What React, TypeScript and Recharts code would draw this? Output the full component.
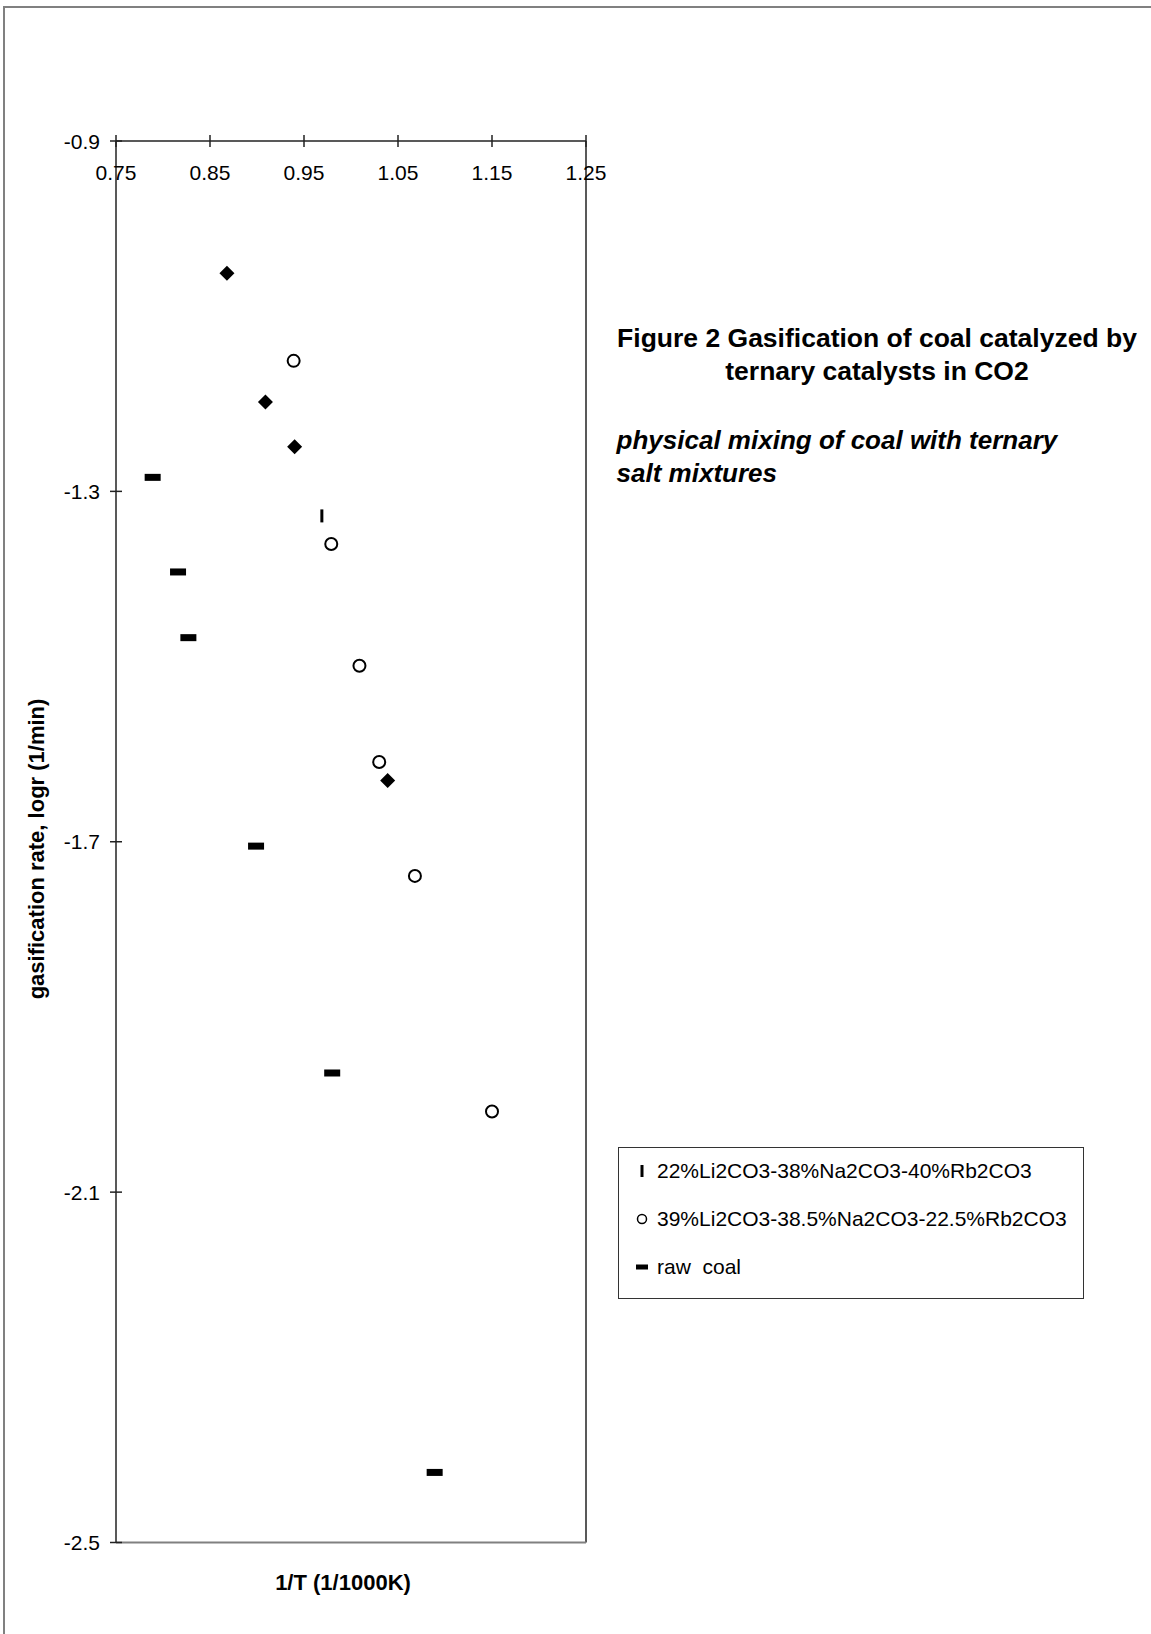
import React from 'react';
import { ScatterChart, Scatter, XAxis, YAxis, ReferenceLine, Legend } from 'recharts';

// ---- data ----
const xTicks = [0.75, 0.85, 0.95, 1.05, 1.15, 1.25];
const yTicks = [-0.9, -1.3, -1.7, -2.1, -2.5];

const diamondX = [0.868, 0.909, 0.94, 1.039];
const diamondY = [-1.051, -1.198, -1.249, -1.63];

const li22X = [0.969];
const li22Y = [-1.328];

const li39X = [0.939, 0.979, 1.009, 1.03, 1.068, 1.15];
const li39Y = [-1.151, -1.36, -1.499, -1.609, -1.739, -2.008];

const rawX = [0.789, 0.816, 0.827, 0.899, 0.98, 1.089];
const rawY = [-1.284, -1.392, -1.467, -1.705, -1.964, -2.42];

const seriesNames = [
  '22%Li2CO3-38%Na2CO3-40%Rb2CO3',
  '39%Li2CO3-38.5%Na2CO3-22.5%Rb2CO3',
  'raw  coal',
];

const toPoints = (xs: number[], ys: number[]) => xs.map((x, i) => ({ x, y: ys[i] }));

const FONT = "'Liberation Sans', Arial, Helvetica, sans-serif";
const AXIS = '#222';

// ---- marker shapes ----
const DiamondShape = (p: any) => {
  const { cx, cy } = p;
  const h = 7.5;
  return <polygon points={`${cx},${cy - h} ${cx + h},${cy} ${cx},${cy + h} ${cx - h},${cy}`} fill="#000" />;
};
const CircleShape = (p: any) => <circle cx={p.cx} cy={p.cy} r={6} fill="#fff" stroke="#000" strokeWidth={2} />;
const BarShape = (p: any) => <rect x={p.cx - 1.5} y={p.cy - 6.5} width={3} height={13} fill="#000" />;
const DashShape = (p: any) => <rect x={p.cx - 8} y={p.cy - 3.5} width={16} height={7} fill="#000" />;

// ---- ticks ----
const XTick = (p: any) => {
  const { x, y, payload } = p;
  return (
    <g>
      <line x1={x} x2={x} y1={y - 6} y2={y + 6} stroke={AXIS} strokeWidth={1.5} />
      <text x={x} y={y + 31} textAnchor="middle" dominantBaseline="central" fontFamily={FONT} fontSize={21} fill="#000">
        {payload.value.toFixed(2)}
      </text>
    </g>
  );
};
const YTick = (p: any) => {
  const { x, y, payload } = p;
  return (
    <g>
      <line x1={x - 6} x2={x + 6} y1={y} y2={y} stroke={AXIS} strokeWidth={1.5} />
      <text x={x - 16} y={y} textAnchor="end" dominantBaseline="central" fontFamily={FONT} fontSize={21} fill="#000">
        {payload.value.toFixed(1)}
      </text>
    </g>
  );
};

const legendMarkers = [
  <rect key="a" x={-1.5} y={-6} width={3} height={12} fill="#000" />,
  <circle key="b" cx={0} cy={0} r={4.5} fill="#fff" stroke="#000" strokeWidth={1.5} />,
  <rect key="c" x={-6} y={-2.5} width={12} height={5} fill="#000" />,
];

const LegendBox = () => (
  <div
    style={{
      position: 'relative',
      width: 466,
      height: 152,
      border: '1.5px solid #333',
      boxSizing: 'border-box',
      background: '#fff',
      fontFamily: FONT,
      fontSize: 21,
      color: '#000',
    }}
  >
    {seriesNames.map((name, i) => (
      <div key={name} style={{ position: 'absolute', left: 0, top: 23 + i * 48 - 14, height: 28, width: 460 }}>
        <svg width={20} height={28} style={{ position: 'absolute', left: 13, top: 0 }}>
          <g transform="translate(10,14)">{legendMarkers[i]}</g>
        </svg>
        <span style={{ position: 'absolute', left: 38, top: 0, lineHeight: '28px', whiteSpace: 'pre' }}>{name}</span>
      </div>
    ))}
  </div>
);

export default function App() {
  return (
    <div style={{ position: 'absolute', left: 0, top: 0, width: 1151, height: 1634, overflow: 'hidden', background: '#fff' }}>
      <div
        style={{
          position: 'absolute',
          left: 3,
          top: 6,
          width: 1200,
          height: 1700,
          borderTop: '2px solid #808080',
          borderLeft: '2px solid #808080',
        }}
      />
      <ScatterChart width={1151} height={1634} margin={{ top: 111, left: 56, right: 565, bottom: 91.5 }}>
        <XAxis
          type="number"
          dataKey="x"
          orientation="top"
          height={30}
          domain={[0.75, 1.25]}
          ticks={xTicks}
          allowDataOverflow
          axisLine={{ stroke: AXIS, strokeWidth: 1.5 }}
          tickLine={false}
          tickSize={0}
          tickMargin={0}
          tick={<XTick />}
          label={() => (
            <text x={343} y={1582} textAnchor="middle" dominantBaseline="central" fontFamily={FONT} fontSize={22} fontWeight="bold" fill="#000">
              1/T (1/1000K)
            </text>
          )}
        />
        <YAxis
          type="number"
          dataKey="y"
          width={60}
          domain={[-2.5, -0.9]}
          ticks={yTicks}
          allowDataOverflow
          axisLine={{ stroke: AXIS, strokeWidth: 1.5 }}
          tickLine={false}
          tickSize={0}
          tickMargin={0}
          tick={<YTick />}
          label={() => (
            <text
              x={36.5}
              y={849}
              transform="rotate(-90 36.5 849)"
              textAnchor="middle"
              dominantBaseline="central"
              fontFamily={FONT}
              fontSize={22}
              fontWeight="bold"
              fill="#000"
            >
              gasification rate, logr (1/min)
            </text>
          )}
        />
        <ReferenceLine x={1.25} stroke={AXIS} strokeWidth={1.5} />
        <ReferenceLine y={-2.5} stroke="#808080" strokeWidth={2} />
        <Scatter name="diamonds" data={toPoints(diamondX, diamondY)} shape={DiamondShape} legendType="none" isAnimationActive={false} />
        <Scatter name={seriesNames[0]} data={toPoints(li22X, li22Y)} shape={BarShape} isAnimationActive={false} />
        <Scatter name={seriesNames[1]} data={toPoints(li39X, li39Y)} shape={CircleShape} isAnimationActive={false} />
        <Scatter name={seriesNames[2]} data={toPoints(rawX, rawY)} shape={DashShape} isAnimationActive={false} />
        <Legend
          layout="vertical"
          align="center"
          verticalAlign="middle"
          content={() => <LegendBox />}
          wrapperStyle={{ position: 'absolute', left: 618, top: 1147, width: 466, height: 152, margin: 0, padding: 0 }}
        />
      </ScatterChart>
      <div
        style={{
          position: 'absolute',
          left: 577,
          top: 321.8,
          width: 600,
          textAlign: 'center',
          fontFamily: FONT,
          fontSize: 26.5,
          fontWeight: 'bold',
          lineHeight: '33.4px',
          whiteSpace: 'nowrap',
          color: '#000',
        }}
      >
        Figure 2 Gasification of coal catalyzed by
        <br />
        ternary catalysts in CO2
      </div>
      <div
        style={{
          position: 'absolute',
          left: 616.6,
          top: 423.9,
          fontFamily: FONT,
          fontSize: 26,
          fontWeight: 'bold',
          fontStyle: 'italic',
          lineHeight: '33.4px',
          whiteSpace: 'nowrap',
          color: '#000',
        }}
      >
        physical mixing of coal with ternary
        <br />
        salt mixtures
      </div>
    </div>
  );
}
